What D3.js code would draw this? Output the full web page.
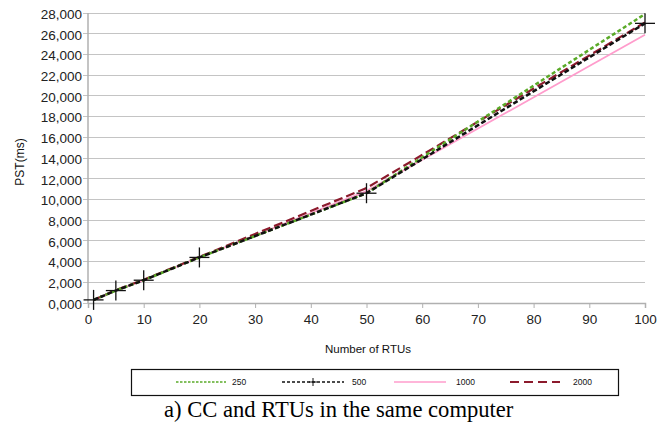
<!DOCTYPE html>
<html><head><meta charset="utf-8">
<script src="https://cdn.jsdelivr.net/npm/d3@7"></script>
<style>body{margin:0;background:#fff}svg{display:block}</style>
</head><body>
<svg id="c" width="672" height="430"></svg>
<script>
const xValues = [1, 5, 10, 20, 50, 100];
const s250 = [300, 1200, 2200, 4400, 10600, 27900];
const s500 = [300, 1200, 2200, 4400, 10600, 27000];
const s1000 = [300, 1200, 2200, 4400, 10800, 25900];
const s2000 = [300, 1250, 2250, 4450, 11100, 27100];
const seriesNames = ["250", "500", "1000", "2000"];
const xTicks = [0,10,20,30,40,50,60,70,80,90,100];
const yTicks = d3.range(0, 28001, 2000);

const svg = d3.select("#c");
const x = d3.scaleLinear().domain([0,100]).range([88,645]);
const y = d3.scaleLinear().domain([0,28000]).range([303,13]);
const fmt = v => (v===0 ? "0,000" : d3.format(",")(v));
const sans = "Arial, 'Liberation Sans', sans-serif";

svg.append("g").selectAll("line").data(yTicks).join("line")
  .attr("x1", x(0)-5).attr("x2", x(100)).attr("y1", d=>y(d)).attr("y2", d=>y(d))
  .attr("stroke", "#c4c4c4").attr("stroke-width", 1).attr("shape-rendering","crispEdges");
svg.append("line").attr("x1", x(0)).attr("x2", x(0)).attr("y1", y(28000)).attr("y2", y(0))
  .attr("stroke", "#b0b0b0").attr("stroke-width", 1.5);
const xAxis = d3.axisBottom(x).tickValues(xTicks).tickSize(5).tickPadding(6).tickFormat(d3.format("d"));
const gx = svg.append("g").attr("transform", `translate(0,${y(0)})`).call(xAxis);
gx.select(".domain").attr("stroke", "#b0b0b0").attr("stroke-width", 1.5);
gx.selectAll(".tick line").attr("stroke", "#b0b0b0");
gx.selectAll("text").attr("font-family", sans).attr("font-size", 13.5).attr("fill", "#222");
const yAxis = d3.axisLeft(y).tickValues(yTicks).tickSize(0).tickPadding(6).tickFormat(fmt);
const gy = svg.append("g").attr("transform", `translate(${x(0)},1)`).call(yAxis);
gy.select(".domain").remove();
gy.selectAll("text").attr("font-family", sans).attr("font-size", 13.5).attr("fill", "#222");

svg.append("text").attr("x", 368).attr("y", 353).attr("text-anchor","middle")
  .attr("font-family",sans).attr("font-size",11.5).attr("fill","#111").text("Number of RTUs");
svg.append("text").attr("transform","translate(24,162) rotate(-90)").attr("text-anchor","middle")
  .attr("font-family",sans).attr("font-size",12).attr("fill","#111").text("PST(ms)");

const styles = {
  "250": {color:"#5aaa28", width:2.5, dash:"4,2.5"},
  "500": {color:"#111111", width:2.5, dash:"5,2.5"},
  "1000": {color:"#ff9ccc", width:1.8, dash:null},
  "2000": {color:"#8c1a2c", width:2.2, dash:"9,4"}
};
const dataMap = {"250": s250, "500": s500, "1000": s1000, "2000": s2000};
const line = d3.line().x(d=>x(d[0])).y(d=>y(d[1]));
const order = ["1000","2000","250","500"];
order.forEach(name => {
  const st = styles[name];
  svg.append("path").datum(xValues.map((v,i)=>[v, dataMap[name][i]]))
    .attr("d", line).attr("fill","none").attr("stroke", st.color)
    .attr("stroke-width", st.width).attr("stroke-dasharray", st.dash);
});
const cross = svg.append("g");
xValues.forEach((v,i) => {
  const cx = x(v), cy = y(s500[i]);
  cross.append("line").attr("x1",cx-10).attr("x2",cx+10).attr("y1",cy).attr("y2",cy).attr("stroke","#111").attr("stroke-width",1.3);
  cross.append("line").attr("x1",cx).attr("x2",cx).attr("y1",cy-10).attr("y2",cy+10).attr("stroke","#111").attr("stroke-width",1.3);
});

const lg = svg.append("g");
lg.append("rect").attr("x",131.5).attr("y",369.5).attr("width",487).attr("height",26)
  .attr("fill","#fff").attr("stroke","#111").attr("stroke-width",1.2);
const legendPos = [{x1:176,x2:226,tx:232},{x1:282,x2:344,tx:352},{x1:394,x2:446,tx:456},{x1:510,x2:560,tx:573}];
seriesNames.forEach((name,i) => {
  const st = styles[name], p = legendPos[i];
  lg.append("line").attr("x1",p.x1).attr("x2",p.x2).attr("y1",382).attr("y2",382)
    .attr("stroke",st.color).attr("stroke-width", name==="2000"?2:1.3)
    .attr("stroke-dasharray", name==="250"?"2.5,1.5":(name==="500"?"3,2":(name==="2000"?"9,5":null)));
  if (name==="500") {
    const mx = (p.x1+p.x2)/2;
    lg.append("line").attr("x1",mx-4).attr("x2",mx+4).attr("y1",382).attr("y2",382).attr("stroke","#111");
    lg.append("line").attr("x1",mx).attr("x2",mx).attr("y1",378).attr("y2",386).attr("stroke","#111");
  }
  lg.append("text").attr("x",p.tx).attr("y",385).attr("font-family",sans)
    .attr("font-size",8.5).attr("fill","#111").text(name);
});

svg.append("text").attr("x",164).attr("y",417).attr("font-family","'Times New Roman', 'Liberation Serif', serif")
  .attr("font-size",22.6).attr("fill","#000").text("a) CC and RTUs in the same computer");
</script>
</body></html>
